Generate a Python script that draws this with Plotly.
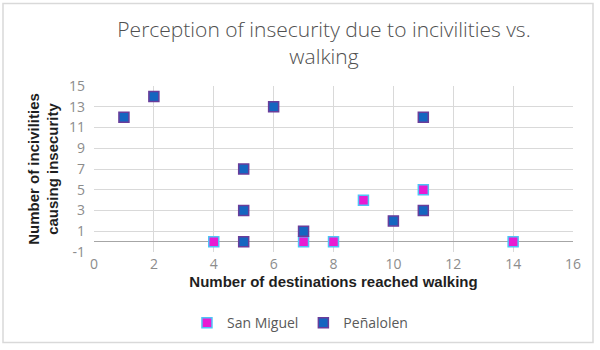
import plotly.graph_objects as go

sm_x = [4, 7, 8, 9, 11, 14]
sm_y = [0, 0, 0, 4, 5, 0]
pe_x = [1, 2, 5, 5, 5, 6, 7, 10, 11, 11]
pe_y = [12, 14, 7, 3, 0, 13, 1, 2, 12, 3]

x_ticks = [0, 2, 4, 6, 8, 10, 12, 14, 16]
y_ticks = [-1, 1, 3, 5, 7, 9, 11, 13, 15]
y_tick_labels = ["-1", "1", "3", "5", "7", "9", "11", "13", "15"]

fig = go.Figure()
fig.add_trace(go.Scatter(
    x=sm_x, y=sm_y, mode="markers", name="San Miguel",
    marker=dict(symbol="square", size=10, color="#E81BD2",
                line=dict(color="#4FC3F7", width=1.5)),
))
fig.add_trace(go.Scatter(
    x=pe_x, y=pe_y, mode="markers", name="Peñalolen",
    marker=dict(symbol="square", size=10, color="#1565C0",
                line=dict(color="#6A3D9A", width=1.5)),
))

grid = "#D9D9D9"
fig.update_layout(
    width=600, height=350,
    margin=dict(l=94, r=27, t=86, b=97),
    paper_bgcolor="white", plot_bgcolor="white",
    font=dict(family="Open Sans, Liberation Sans, sans-serif", color="#595959"),
    title=dict(
        text="Perception of insecurity due to incivilities vs.<br>walking",
        x=0.54, xanchor="center", y=0.895, yanchor="middle",
        font=dict(size=21, color="#505050", family="Open Sans, sans-serif", weight=300),
    ),
    xaxis=dict(
        range=[0, 16], tickvals=x_ticks, showgrid=True, gridcolor=grid,
        zeroline=False, showline=False, ticks="", ticklabelstandoff=2,
        tickfont=dict(size=14, color="#8C8C8C"),
        title=dict(text="<b>Number of destinations reached walking</b>",
                   font=dict(size=15, color="#1F1F1F", family="Liberation Sans, Arial, sans-serif"),
                   standoff=4),
    ),
    yaxis=dict(
        range=[-1, 15], tickvals=y_ticks, ticktext=y_tick_labels,
        showgrid=True, gridcolor=grid,
        zeroline=True, zerolinecolor="#A6A6A6", zerolinewidth=1,
        showline=False, ticks="", ticklabelstandoff=8,
        tickfont=dict(size=14, color="#8C8C8C"),
        title=dict(text="<b>Number of incivilities<br>causing insecurity</b>",
                   font=dict(size=15, color="#1F1F1F", family="Liberation Sans, Arial, sans-serif"),
                   standoff=6),
    ),
    legend=dict(
        orientation="h", x=0.43, xanchor="center", y=-0.42, yanchor="middle",
        font=dict(size=14, color="#595959"), itemwidth=30,
    ),
    showlegend=True,
)
fig.add_shape(type="rect", xref="paper", yref="paper",
              x0=(3 - 94) / 479, x1=(593 - 94) / 479,
              y0=(253 - 344) / 167, y1=(253 - 3) / 167,
              line=dict(color="#D9D9D9", width=1.5), layer="below")

fig.write_html("out.html")
